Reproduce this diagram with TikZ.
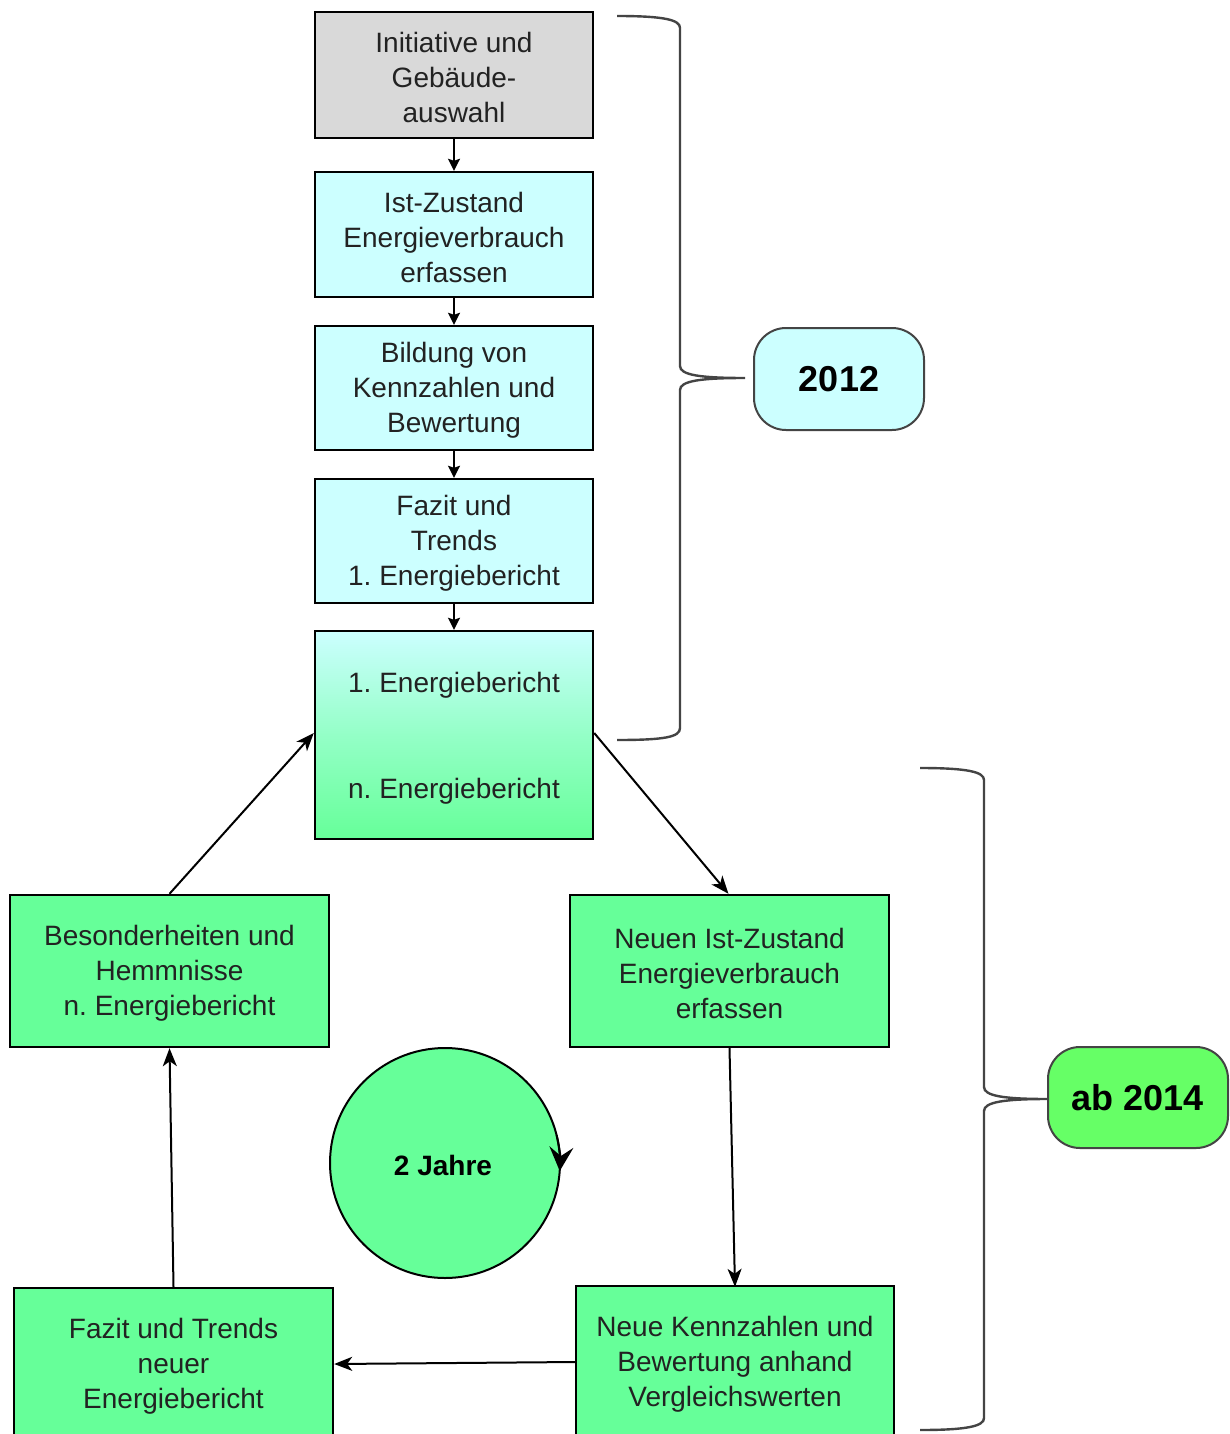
\documentclass[tikz,border=0pt]{standalone}
\usepackage{fontspec}
\setmainfont{Liberation Sans}
\usetikzlibrary{arrows.meta}
\frenchspacing
\definecolor{cyanbox}{HTML}{CCFFFF}
\definecolor{greenbox}{HTML}{66FF99}
\definecolor{greyfill}{HTML}{D9D9D9}
\definecolor{bracecol}{HTML}{444444}
\definecolor{abgreen}{HTML}{66FF66}
\definecolor{txt}{HTML}{222222}
\tikzset{
  stepbox/.style={draw=black, line width=2.4pt, minimum width=278pt, inner sep=0pt, align=center,
    text=txt, font=\fontsize{28}{35}\selectfont},
  bigbox/.style={stepbox, minimum width=319pt, minimum height=152pt, fill=greenbox},
  flow/.style={line width=2pt, -{Stealth[length=18pt,width=14pt,inset=5pt]}},
  shortflow/.style={line width=2pt, -{Stealth[length=12pt,width=12pt,inset=2pt]}},
  bracepath/.style={draw=bracecol, line width=2.4pt},
  yearbox/.style={draw=bracecol, line width=2pt, rounded corners=32pt, inner sep=0pt,
    font=\bfseries\fontsize{36}{40}\selectfont, text=black}
}
\begin{document}
\begin{tikzpicture}[x=1pt,y=-1pt]
\useasboundingbox (0,0) rectangle (1230,1434);
\clip (0,0) rectangle (1230,1434);
\fill[white] (0,0) rectangle (1230,1434);

% top chain
\node[stepbox, fill=greyfill, minimum height=126pt] (b1) at (454,75) {};
\node[text=txt, font=\fontsize{28}{35}\selectfont, align=center] (b1t) at (454,77) {Initiative und\\Gebäude-\\auswahl};
\node[stepbox, fill=cyanbox, minimum height=125pt] (b2) at (454,234.5) {};
\node[text=txt, font=\fontsize{28}{35}\selectfont, align=center] (b2t) at (454,237) {Ist-Zustand\\Energieverbrauch\\erfassen};
\node[stepbox, fill=cyanbox, minimum height=124pt] (b3) at (454,388) {};
\node[text=txt, font=\fontsize{28}{35}\selectfont, align=center] (b3t) at (454,390) {Bildung von\\Kennzahlen und\\Bewertung};
\node[stepbox, fill=cyanbox, minimum height=124pt] (b4) at (454,541) {};
\node[text=txt, font=\fontsize{28}{35}\selectfont, align=center] (b4t) at (454,543) {Fazit und\\Trends\\1. Energiebericht};
\node[stepbox, minimum height=208pt, top color=cyanbox, bottom color=greenbox, middle color=cyanbox!45!greenbox, shading angle=0] (b5) at (454,735) {};
\node[text=txt, font=\fontsize{28}{35}\selectfont] (b5a) at (454,685) {1. Energiebericht};
\node[text=txt, font=\fontsize{28}{35}\selectfont] (b5b) at (454,791) {n. Energiebericht};

\draw[shortflow] (b1.south) -- (b2.north);
\draw[shortflow] (b2.south) -- (b3.north);
\draw[shortflow] (b3.south) -- (b4.north);
\draw[shortflow] (b4.south) -- (b5.north);

% cycle
\node[bigbox] (lt) at (169.5,971) {};
\node[text=txt, font=\fontsize{28}{35}\selectfont, align=center] (ltt) at (169.5,973) {Besonderheiten und\\Hemmnisse\\n. Energiebericht};
\node[bigbox] (rt) at (729.5,971) {};
\node[text=txt, font=\fontsize{28}{35}\selectfont, align=center] (rtt) at (729.5,973) {Neuen Ist-Zustand\\Energieverbrauch\\erfassen};
\node[bigbox] (lb) at (173.5,1364) {};
\node[text=txt, font=\fontsize{28}{35}\selectfont, align=center] (lbt) at (173.5,1366) {Fazit und Trends\\neuer\\Energiebericht};
\node[bigbox, minimum width=318pt] (rb) at (735,1362) {};
\node[text=txt, font=\fontsize{28}{35}\selectfont, align=center] (rbt) at (735,1364) {Neue Kennzahlen und\\Bewertung anhand\\Vergleichswerten};

\draw[flow] ([yshift=2pt]b5.east) -- ([xshift=-1pt]rt.north);
\draw[flow] (lt.north) -- ([yshift=2pt]b5.west);
\draw[flow] (rt.south) -- ([yshift=-2pt]rb.north);
\draw[flow] (rb.west) -- (lb.east);
\draw[flow] (lb.north) -- (lt.south);

% circle
\node[draw=black, line width=2pt, circle, fill=greenbox, minimum size=230pt, inner sep=0pt] (cyc) at (445,1163) {};
\node[font=\bfseries\fontsize{28}{32}\selectfont] (cyct) at (443,1165) {2 Jahre};
\draw[line width=2pt, -{Stealth[length=24pt,width=24pt,inset=9pt]}] (445,1163) ++(-14:115) arc (-14:4:115);

% braces
\draw[bracepath] (617,16) .. controls (665,16) and (680,20) .. (680,28) -- (680,366)
  .. controls (680,375) and (700,378) .. (745,378)
  .. controls (700,378) and (680,381) .. (680,390) -- (680,728)
  .. controls (680,737) and (665,740) .. (617,740);
\node[yearbox, fill=cyanbox, minimum width=170pt, minimum height=102pt] (y12) at (839,379) {2012};

\draw[bracepath] (920,768) .. controls (968,768) and (984,772) .. (984,780) -- (984,1087)
  .. controls (984,1096) and (1004,1099) .. (1048,1099)
  .. controls (1004,1099) and (984,1102) .. (984,1111) -- (984,1418)
  .. controls (984,1426) and (968,1430) .. (920,1430);
\node[yearbox, fill=abgreen, minimum width=180pt, minimum height=101pt] (y14) at (1138,1097.5) {ab 2014};
\end{tikzpicture}
\end{document}
